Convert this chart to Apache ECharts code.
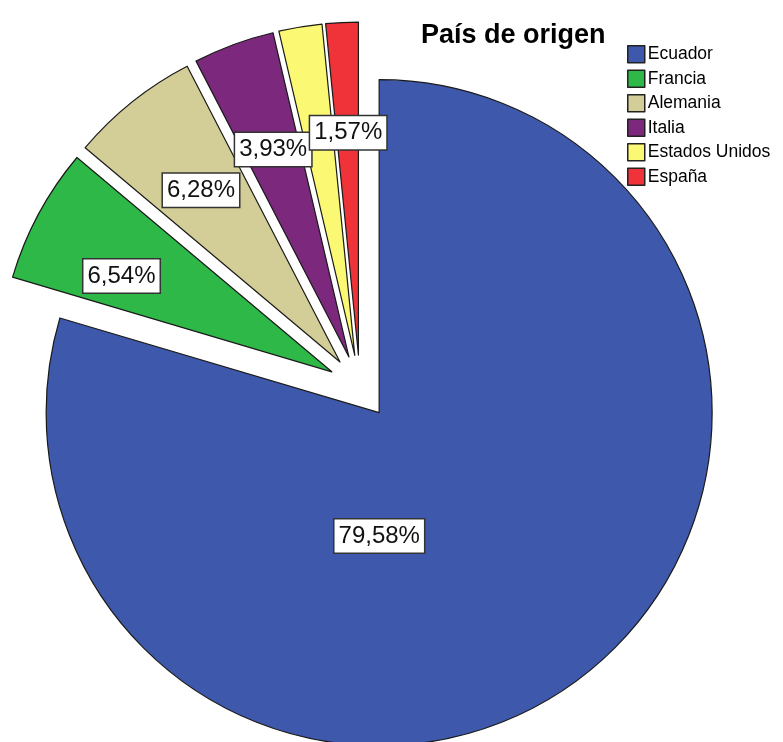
<!DOCTYPE html>
<html>
<head>
<meta charset="utf-8">
<script src="https://cdn.jsdelivr.net/npm/echarts@6/dist/echarts.min.js"></script>
<style>html,body{margin:0;padding:0;background:#fff;}#c{width:783px;height:742px;}</style>
</head>
<body>
<div id="c"></div>
<script>
const categories = ['Ecuador', 'Francia', 'Alemania', 'Italia', 'Estados Unidos', 'España'];
const percentages = [79.58, 6.54, 6.28, 3.93, 2.09, 1.57];
const colors = ['#3E58AC', '#2EB848', '#D3CE97', '#7C287D', '#FBF873', '#EF3338'];
const titleText = 'País de origen';

const chart = echarts.init(document.getElementById('c'), null, {renderer: 'canvas'});

const fmt = p => p.value.toFixed(2).replace('.', ',') + '%';

const mainData = categories.map((n, i) => ({
  name: n, value: percentages[i], selected: true,
  itemStyle: {color: colors[i]}
}));
const labelData = categories.map((n, i) => {
  const item = {name: n, value: percentages[i], selected: true};
  if (n === 'Estados Unidos') item.label = {show: false};
  return item;
});

const labelStyle = {
  show: true,
  position: 'inside',
  formatter: fmt,
  fontFamily: '"Liberation Sans", Arial, sans-serif',
  fontSize: 24,
  lineHeight: 26,
  color: '#111',
  backgroundColor: '#fff',
  borderColor: '#333',
  borderWidth: 1.5,
  padding: [4, 4, 3, 4]
};

chart.setOption({
  animation: false,
  title: {
    text: titleText, left: 416, top: 17,
    textStyle: {fontFamily: '"Liberation Sans", Arial, sans-serif', fontWeight: 'bold', fontSize: 27, color: '#000'}
  },
  legend: {
    data: categories, orient: 'vertical', left: 622, top: 40,
    itemWidth: 17, itemHeight: 17, itemGap: 6,
    icon: 'rect',
    selectedMode: false,
    itemStyle: {borderColor: '#222', borderWidth: 1.5},
    textStyle: {fontFamily: '"Liberation Sans", Arial, sans-serif', fontSize: 17.5, lineHeight: 18, color: '#000', padding: [0, 0, 0, -2]}
  },
  series: [
    {
      type: 'pie', name: 'main', center: [360, 387], radius: [0, 333],
      startAngle: 90, clockwise: true,
      selectedMode: 'multiple', selectedOffset: 32,
      avoidLabelOverlap: false, silent: true,
      label: {show: false}, labelLine: {show: false},
      itemStyle: {borderColor: '#1a1a1a', borderWidth: 1.2},
      emphasis: {disabled: true},
      data: mainData
    },
    {
      type: 'pie', name: 'labels', center: [360, 387], radius: [116, 333],
      startAngle: 90, clockwise: true,
      selectedMode: 'multiple', selectedOffset: 32,
      avoidLabelOverlap: false, silent: true,
      minShowLabelAngle: 0,
      itemStyle: {color: 'rgba(0,0,0,0)', borderWidth: 0},
      label: labelStyle, labelLine: {show: false},
      labelLayout: function (p) {
        if (p.dataIndex === 0) return {hideOverlap: false, dx: -136, dy: -59};
        if (p.dataIndex === 1) return {hideOverlap: false, dx: -10, dy: 12};
        if (p.dataIndex === 5) return {hideOverlap: false, dx: 1, dy: 5};
        return {hideOverlap: false, dx: 3, dy: 6};
      },
      emphasis: {disabled: true},
      data: labelData
    }
  ]
});
</script>
</body>
</html>
